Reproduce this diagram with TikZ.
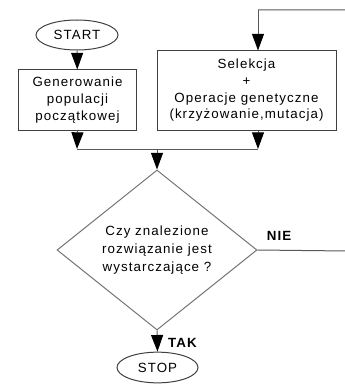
\documentclass[tikz,border=0pt]{standalone}
\usepackage{fontspec}
\setmainfont{Liberation Sans}[LetterSpace=8]
\usetikzlibrary{shapes.geometric,arrows.meta}

\begin{document}
\begin{tikzpicture}[x=0.75pt, y=-0.75pt, font=\fontsize{10}{12.5}\selectfont]
% Define styles
\tikzstyle{terminal} = [ellipse, draw=black!75, line width=0.75pt, inner sep=0pt, text centered]
\tikzstyle{process} = [rectangle, draw=black!75, line width=0.75pt, align=center, inner sep=0pt]
\tikzstyle{decision} = [diamond, draw=black!55, line width=0.75pt, align=center, inner sep=0pt, minimum width=150pt, minimum height=120pt, font=\fontsize{10}{13.75}\selectfont]
\tikzstyle{line} = [draw=black!65, line width=0.75pt]
\tikzstyle{arrow} = [line, -{Triangle[length=12.5pt,width=9pt,color=black]}]
\tikzstyle{answer} = [font=\fontsize{10}{12}\selectfont\bfseries]

\useasboundingbox (0,0) rectangle (345,385);

% Draw nodes
\node [terminal, minimum width=61.5pt, minimum height=22.5pt] (start) at (77,35) {START};
\node [process, minimum width=88.9pt, minimum height=45pt] (gen) at (77.5,100) {Generowanie\\populacji\\początkowej};
\node [process, minimum width=134.25pt, minimum height=59.25pt] (sel) at (246.5,90.5) {Selekcja\\+\\Operacje genetyczne\\(krzyżowanie,mutacja)};
\node [decision] (dec) at (157,250) {Czy znalezione\\rozwiązanie jest\\wystarczające ?};
\node [terminal, minimum width=60.75pt, minimum height=23pt] (stop) at (157.5,367.5) {STOP};

% Helper points
\coordinate (mleft) at (77,149);
\coordinate (mright) at (258,149);
\coordinate (mmid) at (157,149);
\coordinate (loopa) at (347,251);
\coordinate (loopb) at (347,10);
\coordinate (loopc) at (258,10);

% Draw arrows
\draw [arrow] (start) -- (gen);
\draw [arrow] (gen.south) -- (mleft);
\draw [arrow] (sel.south -| mright) -- (mright);
\draw [line] (mleft) -- (mright);
\draw [arrow] (mmid) -- (dec.north);
\draw [arrow] (dec.south) -- (stop.north);
\draw [line] (dec.east) -- (loopa) -- (loopb) -- (loopc);
\draw [arrow] (loopc) -- (loopc |- sel.north);

% Add answer labels
\node [answer] (nie) at (279,236) {NIE};
\node [answer] (tak) at (182.5,343) {TAK};
\end{tikzpicture}
\end{document}
